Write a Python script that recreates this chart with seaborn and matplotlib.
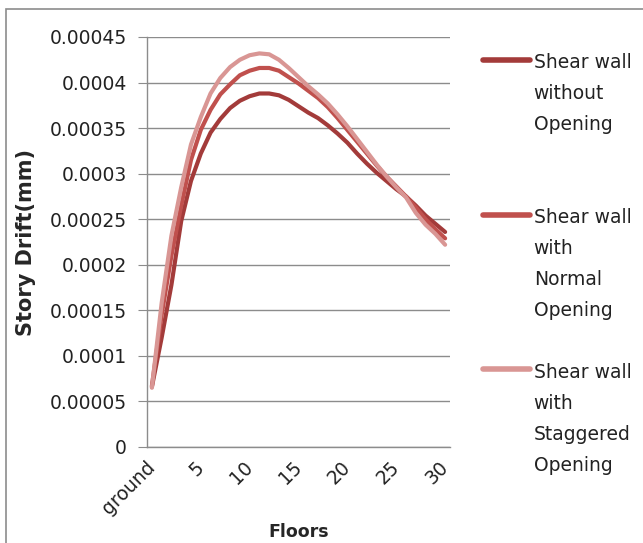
import pandas as pd
import matplotlib.pyplot as plt
import seaborn as sns
from matplotlib.patches import Rectangle

sns.set_style("white")

# ---------------- data ----------------
floors = list(range(31))          # 0 = ground, 1..30
tick_pos = [0, 5, 10, 15, 20, 25, 30]
tick_labels = ['ground', '5', '10', '15', '20', '25', '30']

y_ticks = [0, 0.00005, 0.0001, 0.00015, 0.0002, 0.00025, 0.0003, 0.00035, 0.0004, 0.00045]
y_tick_labels = ['0', '0.00005', '0.0001', '0.00015', '0.0002', '0.00025',
                 '0.0003', '0.00035', '0.0004', '0.00045']

without_opening = [0.000066, 0.000120, 0.000178, 0.000248, 0.000292, 0.000322, 0.000345,
                   0.000360, 0.000372, 0.000380, 0.000385, 0.000388, 0.000388, 0.000386,
                   0.000381, 0.000374, 0.000367, 0.000361, 0.000353, 0.000344, 0.000334,
                   0.000322, 0.000311, 0.000301, 0.000292, 0.000283, 0.000275, 0.000265,
                   0.000254, 0.000245, 0.000236]

normal_opening = [0.000067, 0.000145, 0.000210, 0.000265, 0.000315, 0.000348, 0.000370,
                  0.000387, 0.000398, 0.000408, 0.000413, 0.000416, 0.000416, 0.000413,
                  0.000406, 0.000399, 0.000391, 0.000383, 0.000373, 0.000361, 0.000348,
                  0.000335, 0.000322, 0.000309, 0.000297, 0.000286, 0.000275, 0.000263,
                  0.000250, 0.000239, 0.000229]

staggered_opening = [0.000065, 0.000158, 0.000232, 0.000285, 0.000332, 0.000362, 0.000388,
                     0.000405, 0.000417, 0.000425, 0.000430, 0.000432, 0.000431, 0.000425,
                     0.000416, 0.000406, 0.000396, 0.000387, 0.000377, 0.000365, 0.000352,
                     0.000338, 0.000324, 0.000310, 0.000297, 0.000285, 0.000274, 0.000257,
                     0.000244, 0.000234, 0.000222]

series_names = ['Shear wall\nwithout\nOpening\n',
                'Shear wall\nwith\nNormal\nOpening',
                'Shear wall\nwith\nStaggered\nOpening']
colors = ['#A33B3A', '#C0504D', '#D99694']

df = pd.DataFrame({
    'Floor': floors * 3,
    'Drift': without_opening + normal_opening + staggered_opening,
    'Series': [series_names[0]] * 31 + [series_names[1]] * 31 + [series_names[2]] * 31,
})

# ---------------- plot ----------------
fig = plt.figure(figsize=(6.43, 5.43), dpi=100)
ax = fig.add_axes([147 / 643, 1 - 447 / 543, (450 - 147) / 643, (447 - 37) / 543])

sns.lineplot(data=df, x='Floor', y='Drift', hue='Series', hue_order=series_names,
             palette=colors, linewidth=3, errorbar=None, legend=False, ax=ax)

ax.set_xlim(-0.5, 30.5)
ax.set_ylim(0, 0.00045)
ax.set_yticks(y_ticks)
ax.set_yticklabels(y_tick_labels, fontsize=13.5, color='#222222')
ax.set_xticks(tick_pos)
ax.set_xticklabels(tick_labels, fontsize=13.5, color='#222222', rotation=45,
                   ha='right', va='center', rotation_mode='anchor')

ax.grid(axis='y', color='#8c8c8c', linewidth=1)
ax.set_axisbelow(True)
for side in ['top', 'right']:
    ax.spines[side].set_visible(False)
for side in ['left', 'bottom']:
    ax.spines[side].set_color('#8c8c8c')
    ax.spines[side].set_linewidth(1)
ax.tick_params(axis='y', length=6.5, color='#8c8c8c', pad=8, left=True)
ax.tick_params(axis='x', length=0, pad=12.5)

ax.set_xlabel('Floors', fontsize=12.5, fontweight='bold')
ax.xaxis.set_label_coords(0.5, -0.186)
ax.set_ylabel('Story Drift(mm)', fontsize=15, fontweight='bold', labelpad=10)

leg = ax.legend(ax.get_lines(), series_names, loc='upper left',
                bbox_to_anchor=(483 / 643, 1 - 53 / 543), bbox_transform=fig.transFigure,
                frameon=False, fontsize=13.5, handlelength=2.5, handletextpad=0.2,
                labelspacing=2.29, borderpad=0, borderaxespad=0)
for t in leg.get_texts():
    t.set_linespacing(1.8)
    t.set_color('#222222')
for line in leg.get_lines():
    line.set_linewidth(4)
for col in leg._legend_handle_box.get_children():
    for item in col.get_children():
        item.align = 'top'

# chart area border
fig.patches.append(Rectangle((6 / 643, -0.1), 1.2, 1 - 9 / 543 + 0.1, transform=fig.transFigure,
                             fill=False, edgecolor='#8c8c8c', linewidth=1.2))

fig.savefig('out.png', dpi=100)
